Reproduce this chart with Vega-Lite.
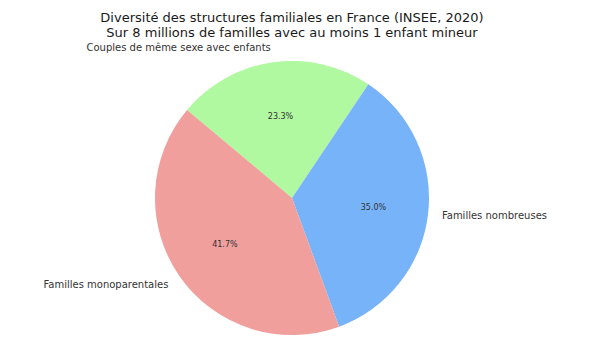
{
  "$schema": "https://vega.github.io/schema/vega-lite/v6.json",
  "width": 584,
  "height": 276,
  "autosize": {"type": "none"},
  "padding": {"left": 0, "top": 60, "right": 16, "bottom": 17},
  "background": "white",
  "config": {"view": {"stroke": null}, "font": "DejaVu Sans"},
  "title": {
    "text": ["Diversité des structures familiales en France (INSEE, 2020)", "Sur 8 millions de familles avec au moins 1 enfant mineur"],
    "font": "DejaVu Sans",
    "fontSize": 13,
    "fontWeight": "normal",
    "color": "#1a1a1a",
    "anchor": "middle",
    "offset": 3,
    "lineHeight": 15
  },
  "data": {
    "values": [
      {"categorie": "Couples de même sexe avec enfants", "part": 23.3, "ordre": 1, "pct": "23.3%"},
      {"categorie": "Familles nombreuses", "part": 35.0, "ordre": 2, "pct": "35.0%"},
      {"categorie": "Familles monoparentales", "part": 41.7, "ordre": 3, "pct": "41.7%"}
    ]
  },
  "encoding": {
    "theta": {"field": "part", "type": "quantitative", "stack": true, "scale": {"range": [-0.8727, 5.4105]}},
    "order": {"field": "ordre", "type": "quantitative"}
  },
  "layer": [
    {
      "mark": {"type": "arc", "outerRadius": 137, "stroke": null},
      "encoding": {
        "color": {
          "field": "categorie",
          "type": "nominal",
          "legend": null,
          "scale": {
            "domain": ["Couples de même sexe avec enfants", "Familles nombreuses", "Familles monoparentales"],
            "range": ["#b0f9a0", "#76b3f8", "#f19f9c"]
          }
        }
      }
    },
    {
      "mark": {"type": "text", "radius": 82, "fontSize": 8, "color": "#333333", "align": "center", "baseline": "middle"},
      "encoding": {"text": {"field": "pct", "type": "nominal"}}
    },
    {
      "mark": {"type": "text", "radius": 151, "fontSize": 10, "color": "#333333", "align": "left", "baseline": "middle"},
      "encoding": {
        "text": {"condition": {"test": "datum.categorie === 'Familles nombreuses'", "field": "categorie"}, "value": ""}
      }
    },
    {
      "mark": {"type": "text", "radius": 151, "fontSize": 10, "color": "#333333", "align": "right", "baseline": "middle"},
      "encoding": {
        "text": {"condition": {"test": "datum.categorie !== 'Familles nombreuses'", "field": "categorie"}, "value": ""}
      }
    }
  ]
}
